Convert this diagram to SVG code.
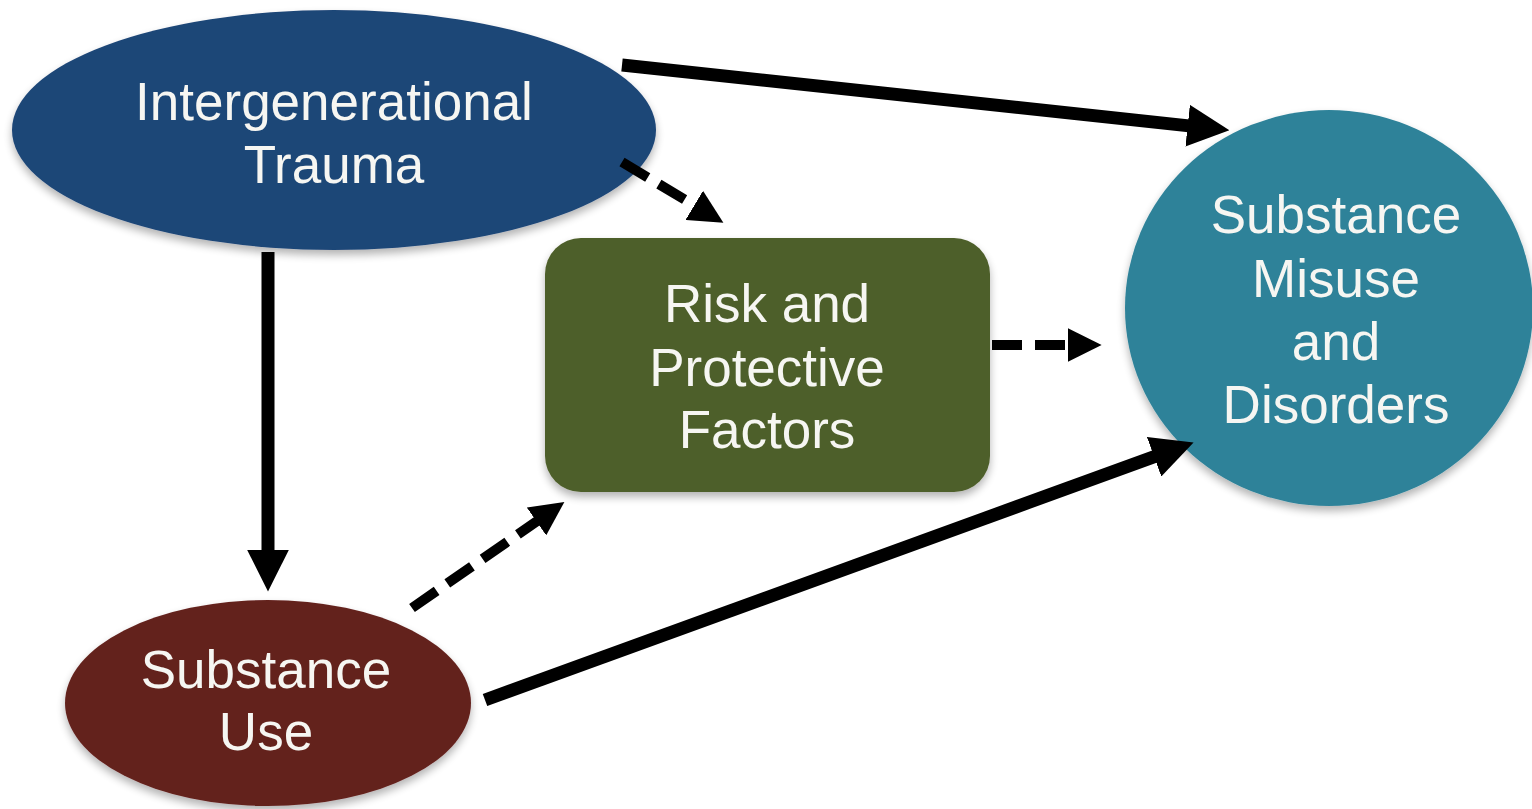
<svg xmlns="http://www.w3.org/2000/svg" width="1532" height="809" viewBox="0 0 1532 809">
<style>
.lbl{font-family:"Liberation Sans",Arial,Helvetica,sans-serif;font-size:53px;fill:#f6f6f2;text-anchor:middle}
.solid{stroke:#000;stroke-width:13;fill:none;marker-end:url(#ah)}
.dash{stroke:#000;stroke-width:10;fill:none;stroke-dasharray:30 13;marker-end:url(#ahs)}
</style>
<defs>
<filter id="sh" x="-10%" y="-10%" width="120%" height="125%">
<feGaussianBlur in="SourceAlpha" stdDeviation="4"/>
<feOffset dx="0" dy="5" result="b"/>
<feComponentTransfer><feFuncA type="linear" slope="0.3"/></feComponentTransfer>
<feMerge><feMergeNode/><feMergeNode in="SourceGraphic"/></feMerge>
</filter>
<marker id="ah" markerUnits="userSpaceOnUse" markerWidth="42" markerHeight="42" viewBox="0 0 40 40" refX="8" refY="20" orient="auto">
<path d="M0,0 L40,20 L0,40 z" fill="#000"/>
</marker>
<marker id="ahs" markerUnits="userSpaceOnUse" markerWidth="34" markerHeight="34" viewBox="0 0 32 32" refX="6" refY="16" orient="auto">
<path d="M0,0 L32,16 L0,32 z" fill="#000"/>
</marker>
</defs>
<rect width="1532" height="809" fill="#fff"/>
<g id="node-trauma">
<ellipse cx="334" cy="130" rx="322" ry="120" fill="#1f4677" filter="url(#sh)"/>
<text class="lbl" x="334" y="120">Intergenerational</text>
<text class="lbl" x="334" y="183">Trauma</text>
</g>
<g id="node-factors">
<rect x="545" y="238" width="445" height="254" rx="36" fill="#4e5e29" filter="url(#sh)"/>
<text class="lbl" x="767" y="322">Risk and</text>
<text class="lbl" x="767" y="386">Protective</text>
<text class="lbl" x="767" y="448">Factors</text>
</g>
<g id="node-misuse">
<ellipse cx="1329" cy="308" rx="204" ry="198" fill="#2e8299" filter="url(#sh)"/>
<text class="lbl" x="1336" y="233">Substance</text>
<text class="lbl" x="1336" y="297">Misuse</text>
<text class="lbl" x="1336" y="360">and</text>
<text class="lbl" x="1336" y="423">Disorders</text>
</g>
<g id="node-use">
<ellipse cx="268" cy="703" rx="203" ry="103" fill="#64221e" filter="url(#sh)"/>
<text class="lbl" x="266" y="688">Substance</text>
<text class="lbl" x="266" y="750">Use</text>
</g>
<g id="connectors">
<line class="solid" x1="622" y1="65" x2="1196" y2="126.6"/>
<line class="dash" x1="622" y1="162" x2="699.7" y2="208.6"/>
<line class="solid" x1="268" y1="252" x2="268" y2="558"/>
<line class="dash" x1="412" y1="608" x2="541.7" y2="517.8"/>
<line class="dash" x1="992" y1="345" x2="1074" y2="345"/>
<line class="solid" x1="485" y1="700" x2="1162" y2="453.9"/>
</g>
</svg>
